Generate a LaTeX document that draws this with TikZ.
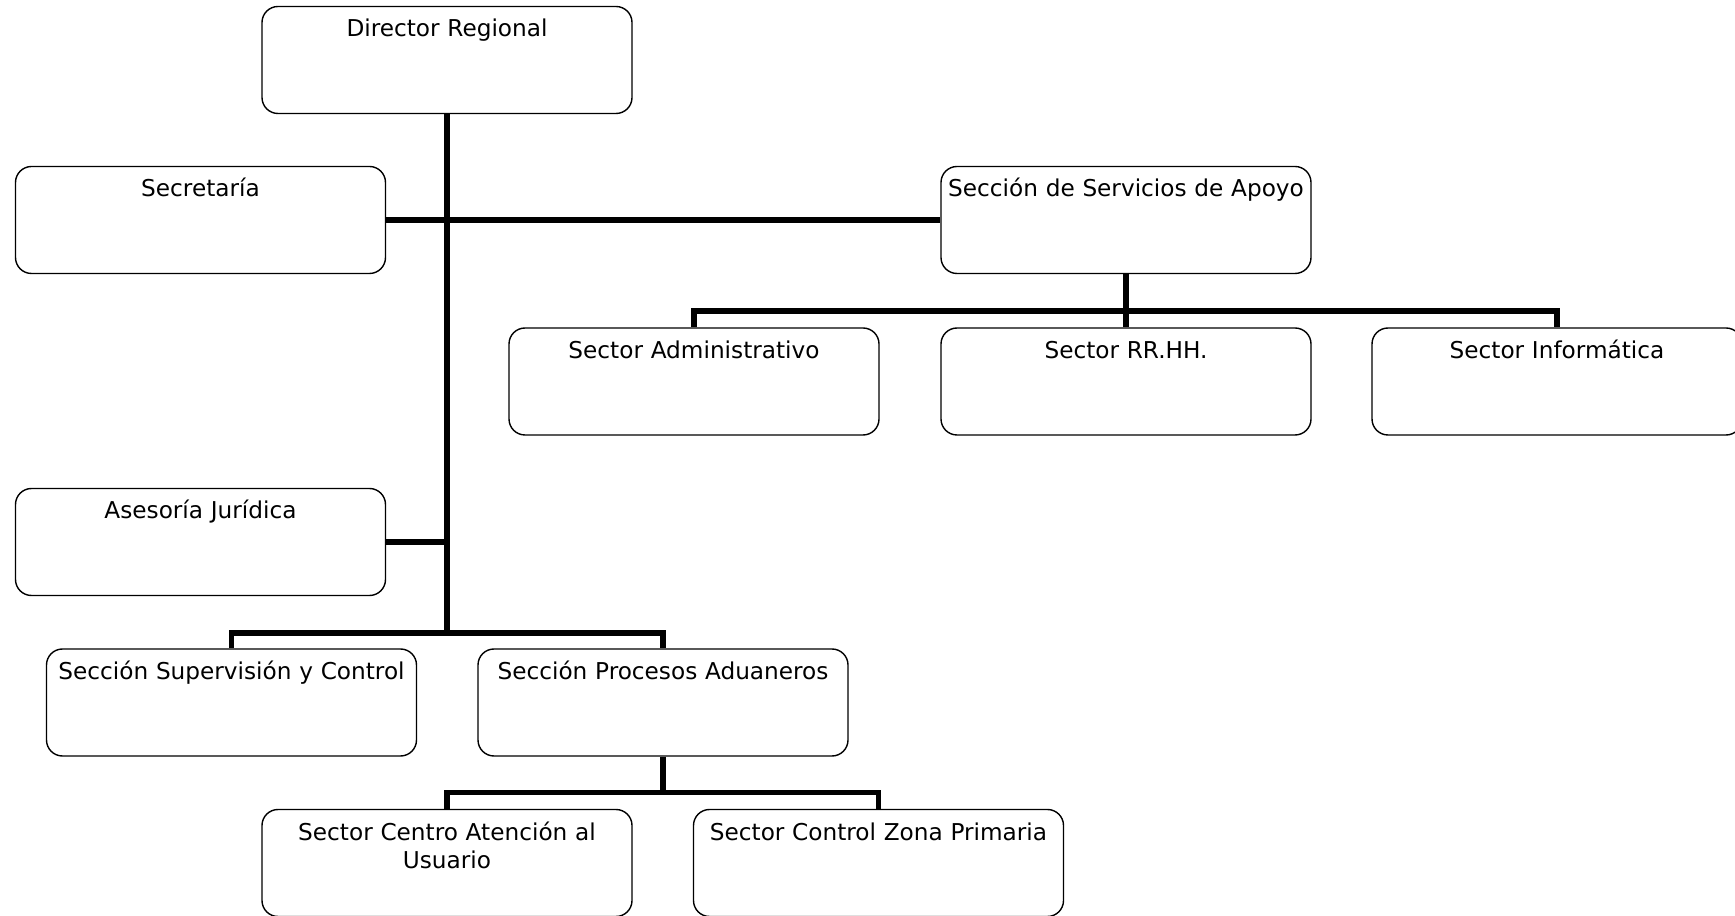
\documentclass[tikz,border=0pt]{standalone}
\usepackage{fontspec}
\setmainfont{DejaVu Sans}
\usepackage{tikz}
\usetikzlibrary{positioning,calc}

\begin{document}
\begin{tikzpicture}[
  unit/.style={draw=black, fill=white, rectangle, rounded corners=3.2mm, line width=0.8pt, align=center, inner xsep=1mm, inner ysep=0pt, text width=7.2cm, minimum width=7.4cm, text height=0.61cm, text depth=1.53cm, font=\fontsize{13.2}{16.4}\selectfont},
  link/.style={line width=3pt}
]
\useasboundingbox (0,0) rectangle (34.70,18.30);

\node[unit] (dir) at (8.94, 17.10) {Director Regional};
\node[unit] (sec) at (4.01, 13.90) {Secretaría};
\node[unit] (serv) at (22.52, 13.90) {Sección de Servicios de Apoyo};
\node[unit] (adm) at (13.88, 10.67) {Sector Administrativo};
\node[unit] (rrhh) at (22.52, 10.67) {Sector RR.HH.};
\node[unit] (inf) at (31.14, 10.67) {Sector Informática};
\node[unit] (ase) at (4.01, 7.46) {Asesoría Jurídica};
\node[unit] (sup) at (4.63, 4.25) {Sección Supervisión y Control};
\node[unit] (proc) at (13.26, 4.25) {Sección Procesos Aduaneros};
\node[unit] (cen) at (8.94, 1.04) {Sector Centro Atención al\\Usuario};
\node[unit] (zona) at (17.57, 1.04) {Sector Control Zona Primaria};

% bus points of the chart
\coordinate (bus1) at (8.94, 5.64);
\coordinate (bus2) at (22.52, 12.08);
\coordinate (bus3) at (13.26, 2.45);

\draw[link] (dir) -- (bus1);
\draw[link] (sec) -- (serv);
\draw[link] (ase) -- (ase -| bus1);
\draw[link] (sup) |- (bus1) -| (proc);
\draw[link] (serv) -- (rrhh);
\draw[link] (adm) |- (bus2) -| (inf);
\draw[link] (proc) -- (bus3);
\draw[link] (cen) |- (bus3) -| (zona);

\end{tikzpicture}
\end{document}
